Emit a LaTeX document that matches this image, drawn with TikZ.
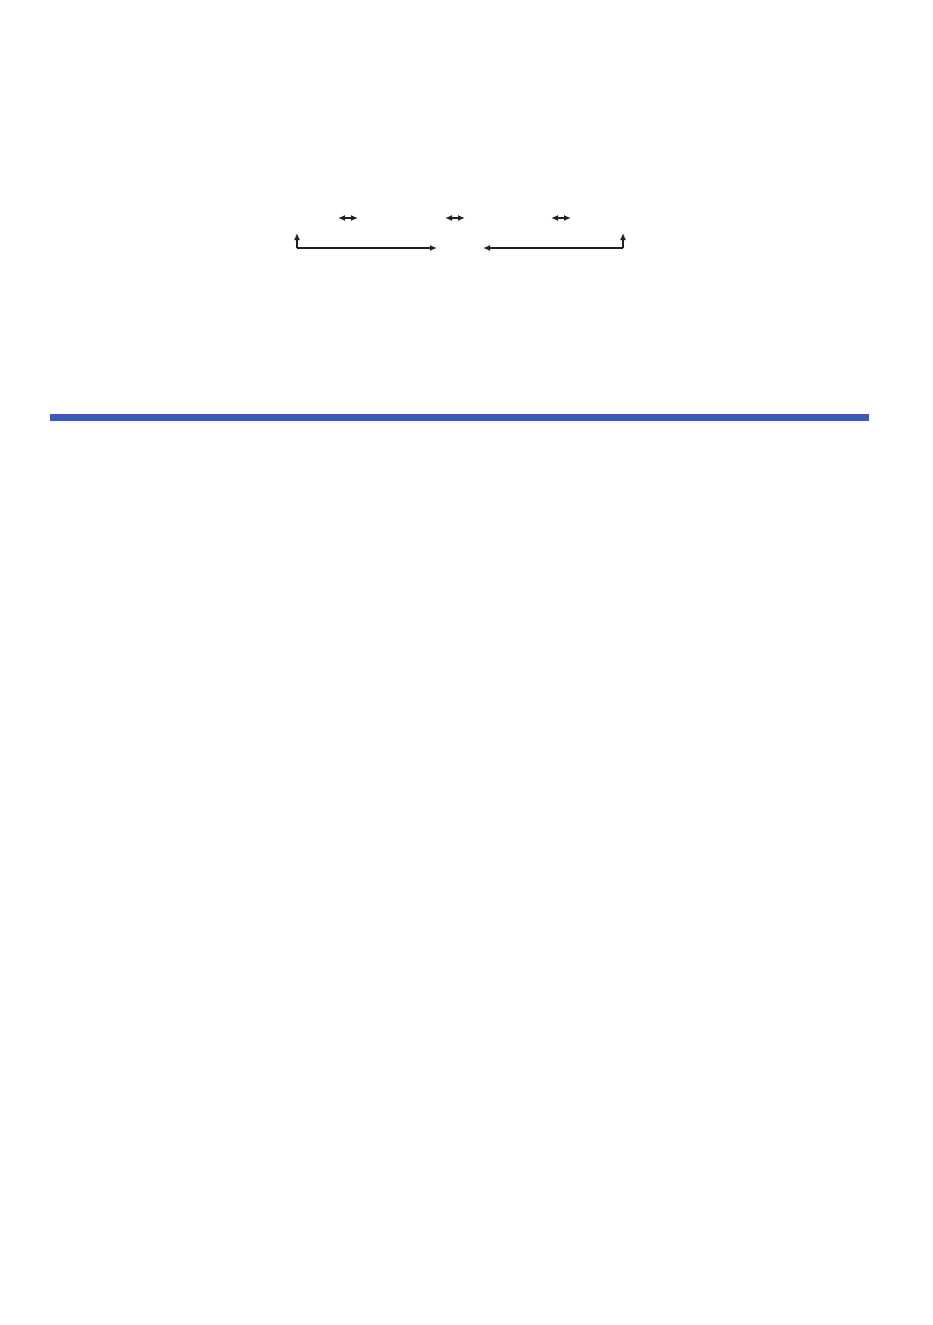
\documentclass[tikz,border=0pt]{standalone}
\usetikzlibrary{arrows.meta}
\definecolor{barblue}{RGB}{60,90,175}
\definecolor{ink}{RGB}{35,31,32}
\begin{document}
\begin{tikzpicture}[x=1pt,y=-1pt,
  conn/.style={draw=ink,line width=1.8pt},
  tipend/.style={conn,-{Latex[length=7pt,width=6pt]}},
  dbl/.style={conn,{Latex[length=7pt,width=6pt]}-{Latex[length=7pt,width=6pt]}}]
\useasboundingbox[fill=white] (0,0) rectangle (933,1325);
% double arrows
\coordinate (d1a) at (338,218); \coordinate (d1b) at (358,218);
\coordinate (d2a) at (445,218); \coordinate (d2b) at (465,218);
\coordinate (d3a) at (551,218); \coordinate (d3b) at (571,218);
\draw[dbl] (d1a) -- (d1b);
\draw[dbl] (d2a) -- (d2b);
\draw[dbl] (d3a) -- (d3b);
% L-shaped arrows
\coordinate (lt) at (297,233); \coordinate (lc) at (297,248); \coordinate (le) at (437,248);
\coordinate (rt) at (623,233); \coordinate (rc) at (623,248); \coordinate (re) at (483,248);
\draw[tipend] (lc) -- (lt);
\draw[tipend] (lc) -- (le);
\draw[tipend] (rc) -- (rt);
\draw[tipend] (rc) -- (re);
% blue bar
\fill[barblue] (49.5,414) rectangle (869,421);
\end{tikzpicture}
\end{document}
